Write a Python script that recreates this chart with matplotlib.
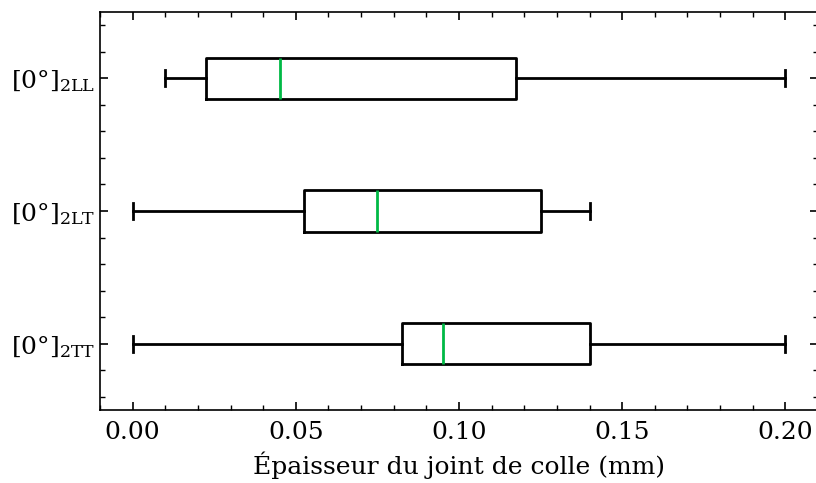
import matplotlib
matplotlib.use('Agg')
import matplotlib.pyplot as plt
from matplotlib.ticker import MultipleLocator, AutoMinorLocator

# données (mm) : bas -> haut
labels = ['[0°]$_{\\mathrm{2TT}}$', '[0°]$_{\\mathrm{2LT}}$', '[0°]$_{\\mathrm{2LL}}$']
whislo = [0.00, 0.00, 0.01]
q1 = [0.0825, 0.0525, 0.0225]
med = [0.095, 0.075, 0.045]
q3 = [0.14, 0.125, 0.1175]
whishi = [0.20, 0.14, 0.20]

plt.rcParams['font.family'] = 'DejaVu Serif'
plt.rcParams['mathtext.fontset'] = 'dejavuserif'
plt.rcParams['font.size'] = 18

stats = []
for i in range(len(labels)):
    stats.append({'label': labels[i], 'whislo': whislo[i], 'q1': q1[i], 'med': med[i],
                  'q3': q3[i], 'whishi': whishi[i], 'fliers': []})

fig = plt.figure(figsize=(8.16, 4.83), dpi=100)
ax = fig.add_axes([100/816, 1 - 410/483, 718/816, 398/483])
ax.bxp(stats, vert=False, showfliers=False, widths=0.31, capwidths=0.12,
       boxprops=dict(color='black', linewidth=2),
       whiskerprops=dict(color='black', linewidth=2),
       capprops=dict(color='black', linewidth=2),
       medianprops=dict(color='#00B945', linewidth=2))

ax.set_xlim(-0.01, 0.21)
ax.set_ylim(0.5, 3.5)
ax.set_xlabel('Épaisseur du joint de colle (mm)', labelpad=5)
ax.xaxis.set_major_locator(MultipleLocator(0.05))
ax.xaxis.set_minor_locator(MultipleLocator(0.01))
ax.yaxis.set_minor_locator(AutoMinorLocator(5))
ax.tick_params(which='both', direction='in', top=True, right=True)
ax.tick_params(which='major', length=6, width=1.2)
ax.tick_params(which='minor', length=3.5, width=1.0)
ax.tick_params(axis='x', which='major', pad=8)
for s in ax.spines.values():
    s.set_linewidth(1.2)

plt.savefig('out.png', dpi=100)
